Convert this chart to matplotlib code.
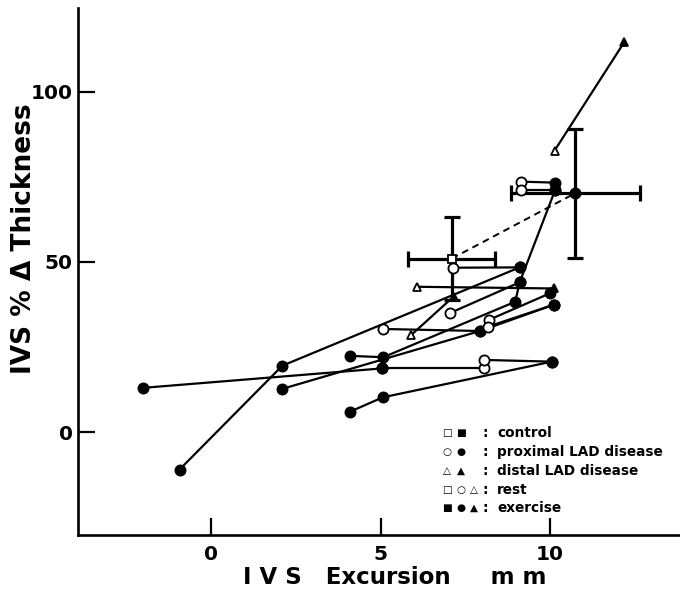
import matplotlib
matplotlib.use("Agg")
import matplotlib.pyplot as plt

# ---------------- data ----------------
# each entry: x values, y values, fill flags (True = exercise/filled)
circ_x = [
    [-2.0, 5.03],
    [5.03, 8.05],
    [8.05, 10.05],
    [4.1, 5.06, 10.05],
    [-0.93, 2.1, 9.1],
    [2.1, 7.93, 10.1],
    [5.06, 7.93],
    [8.2, 10.0],
    [8.17, 10.1],
    [4.1, 5.08, 8.97, 9.1, 10.15],
    [7.05, 9.1],
    [7.12, 9.1],
    [9.13, 10.15],
    [9.13, 10.15],
]
circ_y = [
    [13.0, 18.7],
    [18.7, 18.7],
    [21.2, 20.7],
    [6.0, 10.2, 20.7],
    [-11.0, 19.5, 48.4],
    [12.7, 29.7, 37.4],
    [30.3, 29.7],
    [33.0, 40.8],
    [31.0, 37.4],
    [22.4, 22.0, 38.3, 44.0, 71.2],
    [35.0, 44.0],
    [48.3, 48.4],
    [73.6, 73.3],
    [71.2, 71.2],
]
circ_fill = [
    [True, True],
    [True, False],
    [False, True],
    [True, True, True],
    [True, True, True],
    [True, True, True],
    [False, True],
    [False, True],
    [False, True],
    [True, True, True, True, True],
    [False, True],
    [False, True],
    [False, True],
    [False, True],
]

tri_x = [[6.07, 10.1], [5.9, 7.15], [10.13, 12.18]]
tri_y = [[42.7, 42.2], [28.5, 39.8], [82.7, 114.5]]
tri_fill = [[False, True], [False, True], [False, True]]

ctrl_x = [7.1, 10.74]
ctrl_y = [51.0, 70.2]
ctrl_xerr = [1.28, 1.9]
ctrl_yerr = [12.3, 19.0]
ctrl_fill = [False, True]

xticks = [0, 5, 10]
yticks = [0, 50, 100]

legend_rows = [
    (["□", "■"], "control"),
    (["○", "●"], "proximal LAD disease"),
    (["△", "▲"], "distal LAD disease"),
    (["□", "○", "△"], "rest"),
    (["■", "●", "▲"], "exercise"),
]

# ---------------- figure ----------------
fig = plt.figure(figsize=(6.8, 5.94), dpi=100)
ax = fig.add_axes([0.115, 0.099, 0.885, 0.888])
ax.set_xlim(-3.92, 13.83)
ax.set_ylim(-30.3, 124.7)

LW = 1.6

def draw(xs, ys, fills, marker, ms):
    ax.plot(xs, ys, color="black", lw=LW, zorder=2, solid_capstyle="round")
    for x, y, f in zip(xs, ys, fills):
        ax.plot([x], [y], marker=marker, ms=ms, mec="black", mew=1.3,
                mfc="black" if f else "white", zorder=3, ls="none")

for xs, ys, fs in zip(circ_x, circ_y, circ_fill):
    draw(xs, ys, fs, "o", 7.3)
for xs, ys, fs in zip(tri_x, tri_y, tri_fill):
    draw(xs, ys, fs, "^", 6.0)

# control means with error bars
ax.plot(ctrl_x, ctrl_y, color="black", lw=1.4, ls=(0, (3.5, 2.5)), zorder=1)
for x, y, xe, ye, f in zip(ctrl_x, ctrl_y, ctrl_xerr, ctrl_yerr, ctrl_fill):
    ax.errorbar([x], [y], xerr=[xe], yerr=[ye], fmt="none", ecolor="black",
                elinewidth=2.3, capsize=6, capthick=2.3, zorder=2)
    ax.plot([x], [y], marker="s" if not f else "o", ms=6.0 if not f else 7.3,
            mec="black", mew=1.3, mfc="black" if f else "white", zorder=4)

# axes styling
for s in ["top", "right"]:
    ax.spines[s].set_visible(False)
for s in ["left", "bottom"]:
    ax.spines[s].set_linewidth(1.9)
ax.set_xticks(xticks)
ax.set_yticks(yticks)
ax.tick_params(direction="in", length=12, width=1.6)
ax.set_xticklabels([str(t) for t in xticks], fontsize=14.5, fontweight="heavy",
                   family="DejaVu Sans")
ax.set_yticklabels([str(t) for t in yticks], fontsize=14.5, fontweight="heavy",
                   family="DejaVu Sans")
ax.tick_params(axis="y", pad=4)
ax.tick_params(axis="x", pad=7)

fig.text(0.58, 0.027, "I V S   Excursion     m m", ha="center", va="center",
         fontsize=16.5, fontweight="heavy", family="DejaVu Sans")
fig.text(0.036, 0.598, "IVS % Δ Thickness", ha="center", va="center",
         rotation=90, fontsize=19, fontweight="heavy", family="DejaVu Sans")

# legend as text
sym_x = [0.657, 0.678, 0.697]
row_y = [0.271, 0.239, 0.207, 0.175, 0.145]
for (syms, label), ry in zip(legend_rows, row_y):
    for sx, sym in zip(sym_x, syms):
        fig.text(sx, ry, sym, ha="center", va="center", fontsize=7.5,
                 family="DejaVu Sans")
    fig.text(0.713, ry, ":", ha="center", va="center", fontsize=10,
             fontweight="bold", family="DejaVu Sans")
    fig.text(0.731, ry, label, ha="left", va="center", fontsize=9.8,
             fontweight="bold", family="DejaVu Sans")

fig.savefig("out.png", dpi=100)
